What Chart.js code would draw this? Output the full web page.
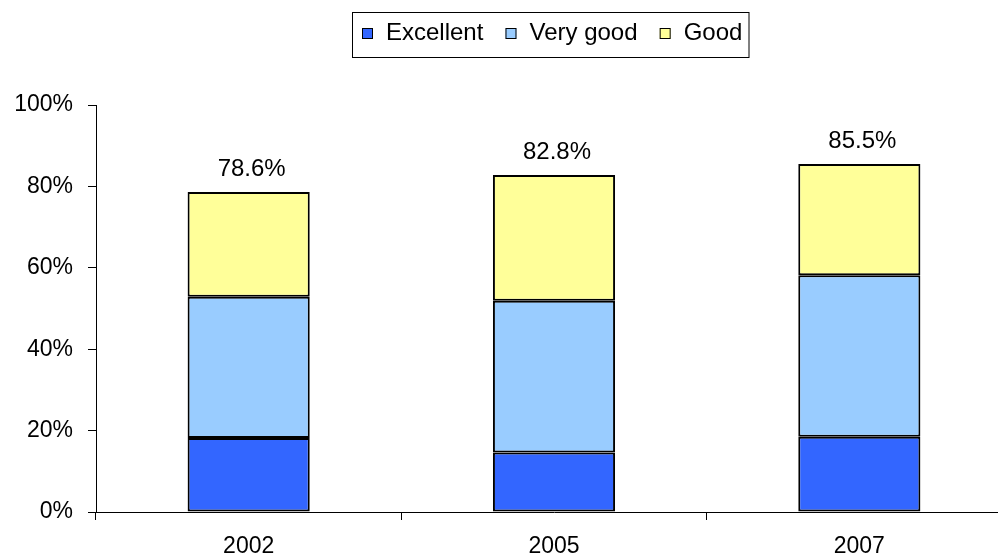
<!DOCTYPE html>
<html>
<head>
<meta charset="utf-8">
<script src="https://cdn.jsdelivr.net/npm/chart.js@4.4.1/dist/chart.umd.min.js"></script>
<style>
  html, body { margin: 0; padding: 0; background: #fff; overflow: hidden; }
  #wrap { width: 1012px; height: 559px; }
</style>
</head>
<body>
<div id="wrap"><canvas id="chart" width="1012" height="559"></canvas></div>
<script>
// data
const years = ['2002', '2005', '2007'];
const excellent = [18.2, 14.6, 18.5];
const veryGood = [34.7, 37.3, 39.7];
const good = [25.7, 30.9, 27.3];
const totals = ['78.6%', '82.8%', '85.5%'];
const yTicks = [0, 20, 40, 60, 80, 100];

const FONT = 'Arial, "Liberation Sans", sans-serif';

// total label on top of each stack
const totalsPlugin = {
    id: 'totals',
    afterDatasetsDraw(chart) {
        const ctx = chart.ctx;
        const meta = chart.getDatasetMeta(2);
        ctx.save();
        ctx.fillStyle = '#000';
        ctx.font = '24px ' + FONT;
        ctx.textAlign = 'center';
        ctx.textBaseline = 'alphabetic';
        meta.data.forEach((bar, i) => {
            ctx.fillText(totals[i], bar.x + 3, bar.y - 16);
        });
        ctx.restore();
    }
};

// boxed legend like the original
const boxLegend = {
    id: 'boxLegend',
    afterDraw(chart) {
        const ctx = chart.ctx;
        ctx.save();
        ctx.font = '24px ' + FONT;
        ctx.textBaseline = 'alphabetic';
        let x = 362;
        const sq = 11, sqTop = 28, base = 40;
        chart.data.datasets.forEach((ds, i) => {
            ctx.fillStyle = ds.backgroundColor;
            ctx.fillRect(x, sqTop, sq, sq);
            ctx.strokeStyle = '#000';
            ctx.lineWidth = 1;
            ctx.strokeRect(x + 0.5, sqTop + 0.5, sq - 1, sq - 1);
            x += sq + 13;
            ctx.fillStyle = '#000';
            ctx.fillText(ds.label, x, base);
            x += ctx.measureText(ds.label).width + ds.label.length * 0.9;
            if (i < chart.data.datasets.length - 1) x += 14;
        });
        ctx.strokeStyle = '#000';
        ctx.lineWidth = 1;
        ctx.strokeRect(352.5, 12.5, 749 - 352.5, 45);
        ctx.restore();
    }
};

const barStyle = { borderColor: '#000', borderWidth: 2, borderSkipped: false, categoryPercentage: 1, barPercentage: 0.4 };

new Chart(document.getElementById('chart'), {
    type: 'bar',
    data: {
        labels: years,
        datasets: [
            { label: 'Excellent', data: excellent, backgroundColor: '#3366FF', ...barStyle },
            { label: 'Very good', data: veryGood, backgroundColor: '#99CCFF', ...barStyle },
            { label: 'Good', data: good, backgroundColor: '#FFFF99', ...barStyle }
        ]
    },
    options: {
        responsive: false,
        animation: false,
        layout: { padding: { top: 105, left: 0, right: 0, bottom: 0 } },
        plugins: {
            legend: { display: false },
            tooltip: { enabled: false }
        },
        scales: {
            x: {
                stacked: true,
                afterFit: s => { s.height = 47; },
                grid: { offset: true, drawOnChartArea: false, drawTicks: true, tickLength: 8, color: '#000' },
                border: { display: true, color: '#000', width: 1 },
                ticks: { color: '#000', font: { family: FONT, size: 23 }, padding: 13, maxRotation: 0 }
            },
            y: {
                stacked: true,
                min: 0,
                max: 100,
                afterFit: s => { s.width = 96; },
                afterBuildTicks: s => { s.ticks = yTicks.map(v => ({ value: v })); },
                grid: { drawOnChartArea: false, drawTicks: true, tickLength: 8, color: '#000' },
                border: { display: true, color: '#000', width: 1 },
                ticks: { color: '#000', font: { family: FONT, size: 23 }, padding: 15, callback: v => v + '%' }
            }
        }
    },
    plugins: [totalsPlugin, boxLegend]
});
</script>
</body>
</html>
